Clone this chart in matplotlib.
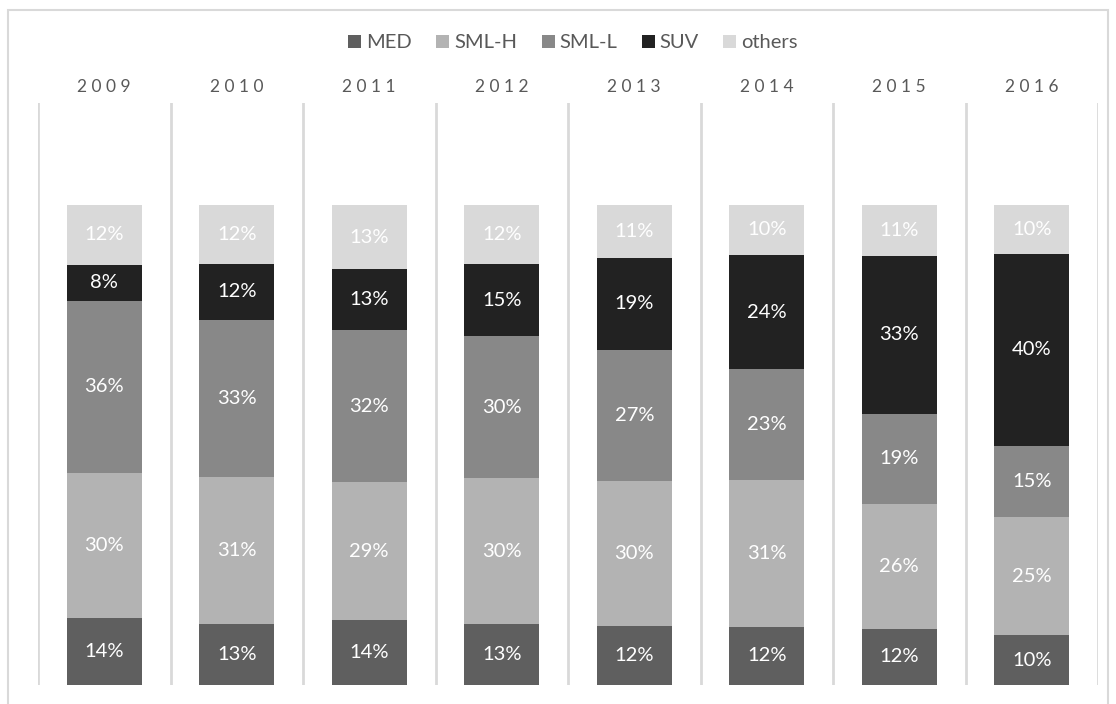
import matplotlib.pyplot as plt
from matplotlib.patches import Rectangle

years = ["2009", "2010", "2011", "2012", "2013", "2014", "2015", "2016"]
segments = ["MED", "SML-H", "SML-L", "SUV", "others"]

# share of sales per segment (%), bottom to top
med = [14.0, 12.7, 13.6, 12.7, 12.2, 12.1, 11.7, 10.4]
sml_h = [30.2, 30.6, 28.6, 30.4, 30.2, 30.6, 26.0, 24.6]
sml_l = [35.8, 32.8, 31.8, 29.6, 27.4, 23.1, 18.8, 14.8]
suv = [7.6, 11.6, 12.6, 15.0, 19.2, 23.8, 32.9, 40.0]
others = [12.4, 12.3, 13.4, 12.3, 11.0, 10.4, 10.6, 10.2]

colors = ["#5f5f5f", "#b3b3b3", "#888888", "#222222", "#d9d9d9"]
grid_col = "#d9d9d9"
text_col = "#595959"

plt.rcParams['font.family'] = ['Lato', 'DejaVu Sans']

W, H = 1116, 704
fig = plt.figure(figsize=(W / 100, H / 100), dpi=100)

# outer chart border
fig.patches.append(Rectangle((8 / W, -0.05), 1100 / W, 1.05 - 10 / H,
                             transform=fig.transFigure, fill=False,
                             edgecolor=grid_col, linewidth=1.5))

ax = fig.add_axes([38 / W, 19 / H, 1060 / W, 582 / H])
ax.set_xlim(0, len(years))
ax.set_ylim(0, 121.25)
ax.axis("off")

series = [med, sml_h, sml_l, suv, others]
xs = [i + 0.5 for i in range(len(years))]
bottoms = [0.0] * len(years)
handles = []
for name, vals, col in zip(segments, series, colors):
    bars = ax.bar(xs, vals, width=0.565, bottom=bottoms, color=col,
                  label=name, zorder=2)
    handles.append(bars)
    for x, b, v in zip(xs, bottoms, vals):
        ax.text(x, b + v / 2, f"{v:.0f}%", ha="center", va="center",
                color="white", fontsize=14.5, zorder=3)
    bottoms = [b + v for b, v in zip(bottoms, vals)]

# panel separators
for k in range(len(years) + 1):
    ax.axvline(k, color=grid_col, linewidth=2, zorder=1)

# year headers
for x, yr in zip(xs, years):
    ax.text(x, 1.028, " ".join(yr), transform=ax.get_xaxis_transform(),
            ha="center", va="center", color=text_col, fontsize=12.5)

fig.legend(handles=handles, loc="center", bbox_to_anchor=(573 / W, 1 - 43 / H),
           ncol=5, frameon=False, fontsize=14.5, labelcolor=text_col,
           handlelength=0.65, handleheight=0.65, handletextpad=0.25,
           columnspacing=1.2)

fig.savefig("out.png", dpi=100)
